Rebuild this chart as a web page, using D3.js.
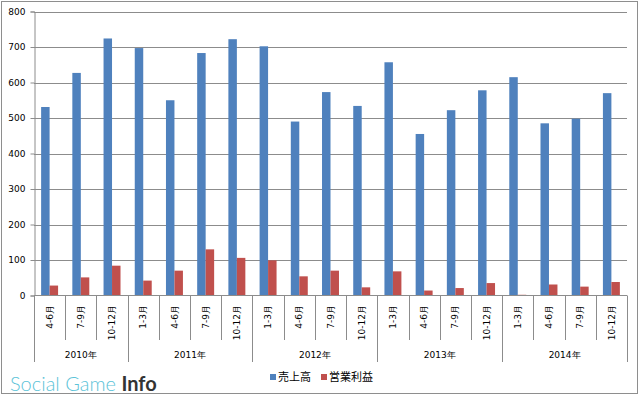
<!DOCTYPE html>
<html>
<head>
<meta charset="utf-8">
<script src="https://cdn.jsdelivr.net/npm/d3@7"></script>
<style>
  body { margin: 0; background: #fff; }
  text { font-family: "DejaVu Sans", sans-serif; fill: #000; }
</style>
</head>
<body>
<div id="chart"></div>
<script>
// quarters, grouped by year
const quarters = ["4-6月","7-9月","10-12月",
  "1-3月","4-6月","7-9月","10-12月",
  "1-3月","4-6月","7-9月","10-12月",
  "1-3月","4-6月","7-9月","10-12月",
  "1-3月","4-6月","7-9月","10-12月"]
const years = ["2010年","2011年","2012年","2013年","2014年"]
const yearSize = [3, 4, 4, 4, 4]
const seriesNames = ["売上高","営業利益"]
const sales = [531, 627, 724, 697, 550, 683, 722, 702, 490, 573, 534, 657, 455, 522, 578, 615, 485, 498, 570]
const profit = [28, 51, 84, 42, 70, 130, 106, 99, 54, 70, 23, 68, 14, 21, 35, 2, 31, 25, 38]
const yTicks = [0, 100, 200, 300, 400, 500, 600, 700, 800]
const colors = ["#4f81bd", "#c0504d"]

let width = 640, height = 395
let plotLeft = 34, plotRight = 627, plotTop = 11.5, plotBottom = 295.5

let svg = d3.select("#chart").append("svg")
    .attr("width", width)
    .attr("height", height)

// outer frame
svg.append("rect")
    .attr("x", 1.5).attr("y", 1.5)
    .attr("width", 636).attr("height", 392)
    .attr("fill", "none")
    .attr("stroke", "#8e8e8e")

let idx = d3.range(quarters.length)

let x = d3.scaleBand()
    .domain(idx)
    .range([plotLeft, plotRight])

let x1 = d3.scaleBand()
    .domain(seriesNames)
    .range([0, x.bandwidth()])
    .paddingOuter(0.84)

let y = d3.scaleLinear()
    .domain([0, 800])
    .range([plotBottom, plotTop])

// gridlines
svg.append("g")
    .selectAll("line")
    .data(yTicks.slice(1))
    .enter().append("line")
    .attr("x1", plotLeft).attr("x2", plotRight)
    .attr("y1", d => Math.round(y(d)) + 0.5)
    .attr("y2", d => Math.round(y(d)) + 0.5)
    .attr("stroke", "#8c8c8c")

// bars
let rows = idx.map(i => ({i: i, vals: [sales[i], profit[i]]}))
svg.append("g")
    .selectAll("g")
    .data(rows)
    .enter().append("g")
    .attr("transform", d => `translate(${x(d.i)},0)`)
    .selectAll("rect")
    .data(d => d.vals.map((v, k) => ({k: k, v: v})))
    .enter().append("rect")
    .attr("x", d => x1(seriesNames[d.k]))
    .attr("width", x1.bandwidth())
    .attr("y", d => y(d.v))
    .attr("height", d => y(0) - y(d.v))
    .attr("fill", d => colors[d.k])

// y axis
let yAxis = svg.append("g")
    .attr("transform", `translate(${plotLeft + 0.5},0)`)
    .call(d3.axisLeft(y).tickValues(yTicks).tickSize(4).tickPadding(5))
yAxis.select(".domain").attr("stroke", "#8c8c8c")
yAxis.selectAll(".tick line").attr("stroke", "#8c8c8c")
yAxis.selectAll(".tick text")
    .style("font-family", "DejaVu Sans")
    .style("font-size", "9px")
    .attr("fill", "#000")

// x axis base line
svg.append("line")
    .attr("x1", plotLeft).attr("x2", plotRight)
    .attr("y1", plotBottom).attr("y2", plotBottom)
    .attr("stroke", "#8c8c8c")

// category separators
let yearStarts = [0]
yearSize.forEach((n, i) => yearStarts.push(yearStarts[i] + n))
let bounds = d3.range(quarters.length + 1)
svg.append("g")
    .selectAll("line")
    .data(bounds)
    .enter().append("line")
    .attr("x1", d => Math.round(plotLeft + d * x.step()) + 0.5)
    .attr("x2", d => Math.round(plotLeft + d * x.step()) + 0.5)
    .attr("y1", plotBottom)
    .attr("y2", d => yearStarts.includes(d) ? 362 : 340)
    .attr("stroke", "#8c8c8c")

// quarter labels
svg.append("g")
    .selectAll("text")
    .data(idx)
    .enter().append("text")
    .attr("transform", d => `translate(${x(d) + x.bandwidth() / 2},305) rotate(-90)`)
    .attr("text-anchor", "end")
    .attr("dy", "0.35em")
    .style("font-size", "9px")
    .text(d => quarters[d])

// year labels
svg.append("g")
    .selectAll("text")
    .data(years)
    .enter().append("text")
    .attr("x", (d, i) => plotLeft + (yearStarts[i] + yearSize[i] / 2) * x.step())
    .attr("y", 358)
    .attr("text-anchor", "middle")
    .style("font-size", "9px")
    .text(d => d)

// legend
let legend = svg.append("g")
    .selectAll("g")
    .data(seriesNames)
    .enter().append("g")
    .attr("transform", (d, i) => `translate(${[270, 321][i]},0)`)
legend.append("rect")
    .attr("x", 0).attr("y", 374)
    .attr("width", 6).attr("height", 6)
    .attr("fill", (d, i) => colors[i])
legend.append("text")
    .attr("x", 8).attr("y", 381)
    .style("font-family", "Noto Sans CJK JP")
    .style("font-size", "11px")
    .text(d => d)

// logo
let logo = svg.append("text")
    .attr("x", 10).attr("y", 391)
    .style("font-family", "Lato, 'Open Sans', sans-serif")
    .style("font-size", "20px")
logo.append("tspan")
    .attr("fill", "#5cc3d8")
    .style("font-weight", 300)
    .text("Social Game ")
logo.append("tspan")
    .attr("fill", "#333")
    .style("font-weight", 700)
    .text("Info")
</script>
</body>
</html>
